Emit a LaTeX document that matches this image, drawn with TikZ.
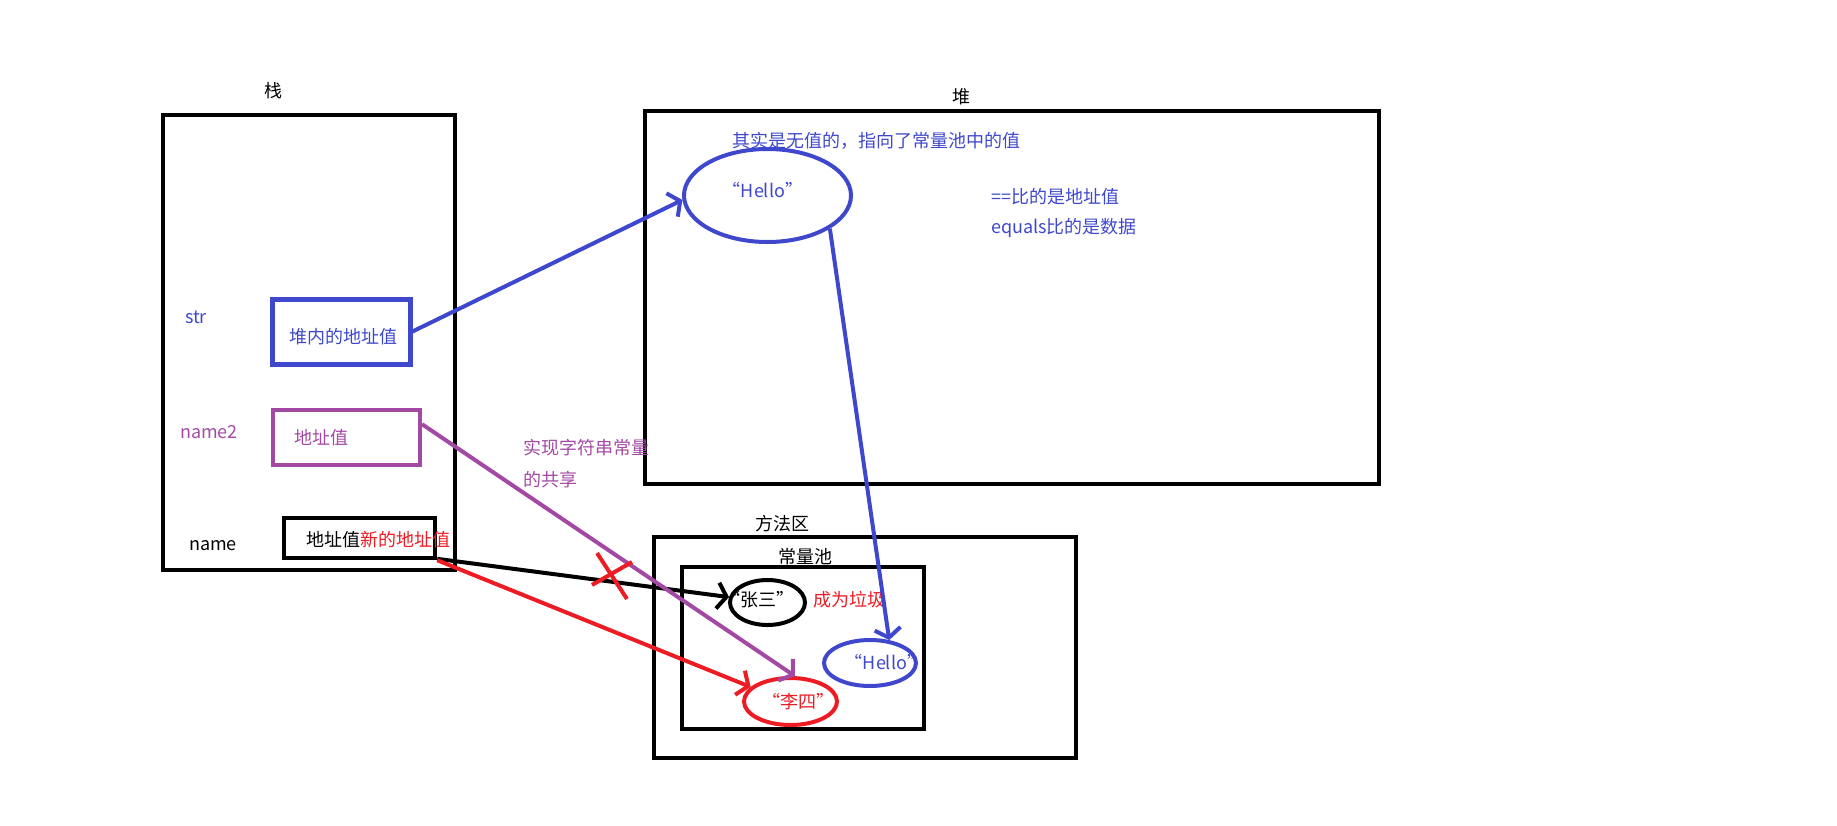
\documentclass[tikz,border=0pt]{standalone}
\usepackage{fontspec}
\setmainfont{Noto Sans CJK SC}
\usetikzlibrary{arrows.meta,shapes.geometric}
\definecolor{penblue}{RGB}{63,72,204}
\definecolor{penpurple}{RGB}{163,73,164}
\definecolor{penred}{RGB}{237,28,36}
\tikzset{
  frame/.style={draw, line width=4pt, inner sep=0pt},
  pot/.style={ellipse, draw, line width=4pt, inner sep=0pt},
  word/.style={inner sep=0pt, font=\fontsize{18}{21}\selectfont},
  link/.style={line width=4pt, -{Straight Barb[length=9pt,width=26pt]}}
}
\begin{document}
\begin{tikzpicture}[x=1pt,y=-1pt]
\useasboundingbox (0,0) rectangle (1837,825);
\node[word] (stacklabel) at (273,91) {栈};
\node[word] (heaplabel) at (961,97) {堆};
\node[word] (methodlabel) at (782,524) {方法区};
\node[word] (poollabel) at (805,557) {常量池};
\node[frame, minimum width=292, minimum height=455] (stack) at (309,342.5) {};
\node[frame, minimum width=734, minimum height=373] (heap) at (1012,297.5) {};
\node[frame, minimum width=422, minimum height=221] (method) at (865,647.5) {};
\node[frame, minimum width=242, minimum height=162] (pool) at (803,648) {};
\node[frame, penblue, line width=5pt, minimum width=138, minimum height=65] (strbox) at (341,331.5) {};
\node[frame, penpurple, minimum width=147, minimum height=55] (addrbox) at (346.5,437.5) {};
\node[frame, line width=4.5pt, minimum width=151, minimum height=40] (namebox) at (359.5,538) {};
\node[word, penblue] (strname) at (196,317) {str};
\node[word, penpurple] (name2) at (209,432) {name2};
\node[word] (name) at (213,546) {name};
\node[word, penblue] (strval) at (343,337) {堆内的地址值};
\node[word, penpurple] (addrval) at (321,438) {地址值};
\node[word] (oldval) at (333,540) {地址值};
\node[word, penred, anchor=west] (newval) at (oldval.east) {新的地址值};
\node[pot, penblue, minimum width=167, minimum height=93] (heaphello) at (767.5,195.5) {};
\node[word, penblue] at (763,190) {“Hello”};
\node[word, penblue] (note) at (876,141) {其实是无值的，指向了常量池中的值};
\node[word, penblue, anchor=west] (eqaddr) at (991,197) {==比的是地址值};
\node[word, penblue, anchor=west] (eqdata) at (991,228) {equals比的是数据};
\node[word, penpurple, anchor=west] (share1) at (523,448) {实现字符串常量};
\node[word, penpurple, anchor=west] (share2) at (523,480) {的共享};
\node[pot, minimum width=75, minimum height=45] (zhang) at (767.5,602.5) {};
\node[word] at (758,600) {“张三”};
\node[word, penred] (garbage) at (849,600) {成为垃圾};
\node[pot, penblue, minimum width=92, minimum height=46] (poolhello) at (870,663) {};
\node[word, penblue] at (885,662) {“Hello”};
\node[pot, penred, minimum width=93, minimum height=47] (lisi) at (790.5,701.5) {};
\node[word, penred] at (798,702) {“李四”};
\draw[link, penblue] (strbox.east) -- (heaphello.183);
\draw[link, penblue] (heaphello.-28) -- (poolhello.50);
\draw[link] (namebox.-15) -- (zhang.172);
\draw[link, penpurple] (addrbox.10) -- (lisi.80);
\draw[link, penred] (namebox.south east) -- (lisi.160);
\draw[penred, line width=4pt] (597,553) -- (627,599);
\draw[penred, line width=4pt] (592,585) -- (632,562);
\end{tikzpicture}
\end{document}
